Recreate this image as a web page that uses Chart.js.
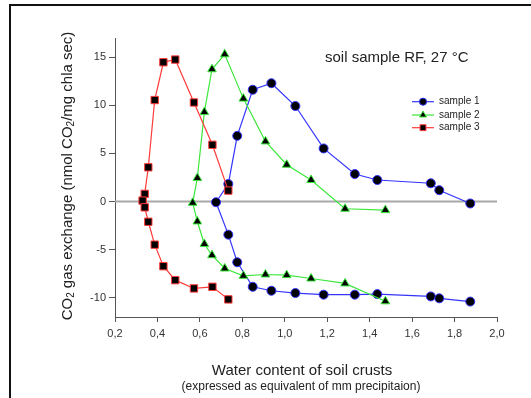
<!DOCTYPE html>
<html>
<head>
<meta charset="utf-8">
<script src="https://cdn.jsdelivr.net/npm/chart.js@4/dist/chart.umd.min.js"></script>
<style>
  html, body { margin: 0; padding: 0; background: #fff; }
</style>
</head>
<body>
<canvas id="chart" width="531" height="398"></canvas>
<script>
// values (x = water content, y = CO2 exchange)
const s1X = [1.874, 1.728, 1.688, 1.436, 1.33, 1.183, 1.05, 0.937, 0.849, 0.776, 0.734, 0.676,
             0.734, 0.776, 0.849, 0.937, 1.05, 1.183, 1.33, 1.436, 1.688, 1.728, 1.874];
const s1Y = [-0.2, 1.18, 1.9, 2.24, 2.86, 5.52, 9.93, 12.3, 11.62, 6.83, 1.83, -0.07,
             -3.44, -6.31, -8.86, -9.27, -9.51, -9.68, -9.68, -9.62, -9.86, -10.06, -10.4];

const s2X = [1.474, 1.284, 1.124, 1.009, 0.909, 0.805, 0.717, 0.657, 0.621, 0.588, 0.566,
             0.588, 0.621, 0.657, 0.717, 0.805, 0.909, 1.009, 1.124, 1.284, 1.474];
const s2Y = [-0.89, -0.75, 2.24, 3.83, 6.25, 10.7, 15.3, 13.75, 9.3, 2.45, -0.13,
             -2.07, -4.41, -5.58, -6.96, -7.72, -7.58, -7.65, -8.0, -8.51, -10.37];

const s3X = [0.734, 0.659, 0.572, 0.484, 0.428, 0.387, 0.357, 0.34, 0.33,
             0.34, 0.357, 0.387, 0.428, 0.484, 0.572, 0.659, 0.734];
const s3Y = [1.14, 5.9, 10.3, 14.76, 14.48, 10.55, 3.56, 0.8, 0.1,
             -0.6, -2.1, -4.48, -6.72, -8.17, -9.03, -8.86, -10.17];

const seriesNames = ["sample 1", "sample 2", "sample 3"];
const xTickValues = [0.2, 0.4, 0.6, 0.8, 1.0, 1.2, 1.4, 1.6, 1.8, 2.0];
const yTickValues = [-10, -5, 0, 5, 10, 15];

const FONT = "'Liberation Sans', Arial, sans-serif";
const colors = ["#3434ff", "#3be83b", "#ff3a3a"];
const styles = ["circle", "triangle", "rect"];
const radii = [4.5, 5, 5.2];

const pts = (xs, ys) => xs.map((x, i) => ({ x, y: ys[i] }));
const allData = [pts(s1X, s1Y), pts(s2X, s2Y), pts(s3X, s3Y)];

const datasets = allData.map((data, i) => ({
  label: seriesNames[i],
  data,
  showLine: true,
  borderColor: colors[i],
  borderWidth: 1.2,
  tension: 0,
  pointStyle: styles[i],
  pointRadius: radii[i],
  pointBackgroundColor: "#000",
  pointBorderColor: colors[i],
  pointBorderWidth: 1,
  order: 3 - i,
}));

function drawRich(ctx, parts, x, y) {
  let total = 0;
  parts.forEach((p) => {
    ctx.font = p.size + "px " + FONT;
    p.w = ctx.measureText(p.t).width;
    total += p.w;
  });
  let cx = x - total / 2;
  parts.forEach((p) => {
    ctx.font = p.size + "px " + FONT;
    ctx.fillText(p.t, cx, y + (p.dy || 0));
    cx += p.w;
  });
}

const decor = {
  id: "decor",
  beforeDatasetsDraw(chart) {
    const { ctx, chartArea } = chart;
    const y0 = chart.scales.y.getPixelForValue(0);
    ctx.save();
    ctx.strokeStyle = "#a8a8a8";
    ctx.lineWidth = 2;
    ctx.beginPath();
    ctx.moveTo(chartArea.left, y0);
    ctx.lineTo(chartArea.right, y0);
    ctx.stroke();
    ctx.restore();
  },
  afterDraw(chart) {
    const { ctx } = chart;
    ctx.save();

    // outer frame (top and left only)
    ctx.strokeStyle = "#111";
    ctx.lineWidth = 2;
    ctx.beginPath();
    ctx.moveTo(10, 398);
    ctx.lineTo(10, 5);
    ctx.lineTo(531, 5);
    ctx.stroke();

    ctx.fillStyle = "#222";
    ctx.textBaseline = "middle";

    // title
    ctx.font = "15px " + FONT;
    ctx.textAlign = "left";
    ctx.fillText("soil sample RF, 27 °C", 325, 58);

    // x titles
    ctx.textAlign = "center";
    ctx.font = "15px " + FONT;
    ctx.fillText("Water content of soil crusts", 302, 371);
    ctx.font = "12px " + FONT;
    ctx.fillText("(expressed as equivalent of mm precipitaion)", 301, 387);

    // y title, rotated
    ctx.save();
    ctx.translate(72, 176);
    ctx.rotate(-Math.PI / 2);
    ctx.textAlign = "left";
    ctx.textBaseline = "alphabetic";
    drawRich(ctx, [
      { t: "CO", size: 15 },
      { t: "2", size: 10, dy: 2 },
      { t: " gas exchange (nmol CO", size: 15 },
      { t: "2", size: 10, dy: 2 },
      { t: "/mg chla sec)", size: 15 },
    ], 0, 0);
    ctx.restore();

    // legend
    const legY = [101.7, 115, 127.7];
    seriesNames.forEach((name, i) => {
      const y = legY[i];
      ctx.strokeStyle = colors[i];
      ctx.lineWidth = 1.2;
      ctx.beginPath();
      ctx.moveTo(412, y);
      ctx.lineTo(434, y);
      ctx.stroke();
      ctx.fillStyle = "#000";
      ctx.strokeStyle = colors[i];
      ctx.lineWidth = 1;
      Chart.helpers.drawPoint(ctx, { pointStyle: styles[i], radius: radii[i] * 0.8, borderWidth: 1, rotation: 0 }, 423, y);
      ctx.fillStyle = "#222";
      ctx.font = "10px " + FONT;
      ctx.textAlign = "left";
      ctx.textBaseline = "middle";
      ctx.fillText(name, 439, y);
    });

    ctx.restore();
  },
};

new Chart(document.getElementById("chart"), {
  type: "scatter",
  data: { datasets },
  options: {
    responsive: false,
    animation: false,
    layout: { padding: { top: 38, right: 34, left: 0, bottom: 0 } },
    plugins: { legend: { display: false }, tooltip: { enabled: false } },
    scales: {
      x: {
        type: "linear",
        min: 0.2,
        max: 2.0,
        afterBuildTicks: (axis) => { axis.ticks = xTickValues.map((v) => ({ value: v })); },
        afterFit: (scale) => { scale.height = 81; },
        grid: { drawOnChartArea: false, color: "#555", tickLength: 5 },
        border: { color: "#555", width: 1 },
        ticks: {
          color: "#333",
          font: { family: FONT, size: 11 },
          padding: 5,
          maxRotation: 0,
          callback: (v) => Number(v).toFixed(1).replace(".", ","),
        },
      },
      y: {
        type: "linear",
        min: -12,
        max: 17,
        afterBuildTicks: (axis) => { axis.ticks = yTickValues.map((v) => ({ value: v })); },
        afterFit: (scale) => { scale.width = 115; },
        grid: { drawOnChartArea: false, color: "#555", tickLength: 6 },
        border: { color: "#555", width: 1 },
        ticks: {
          color: "#333",
          font: { family: FONT, size: 11 },
          padding: 3,
          callback: (v) => String(v),
        },
      },
    },
  },
  plugins: [decor],
});
</script>
</body>
</html>
